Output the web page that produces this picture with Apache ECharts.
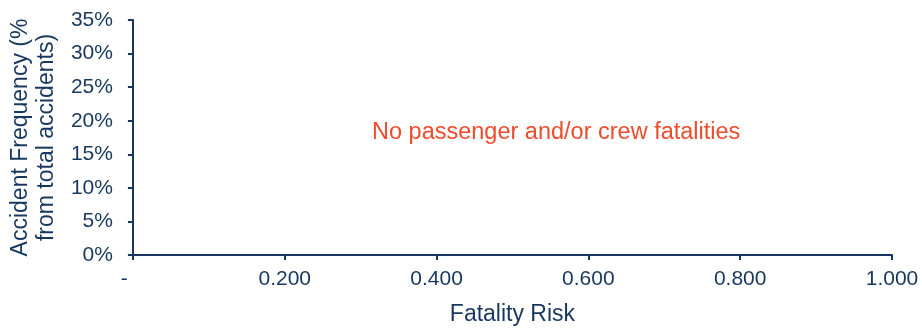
<!DOCTYPE html>
<html>
<head>
<meta charset="utf-8">
<script src="https://cdn.jsdelivr.net/npm/echarts@6/dist/echarts.min.js"></script>
<style>
html, body { margin: 0; padding: 0; background: #fff; }
#main { width: 922px; height: 331px; }
</style>
</head>
<body>
<div id="main"></div>
<script>
// no accidents with passenger/crew fatalities -> empty chart
var riskValues = [];
var freqValues = [];
var xMin = 0, xMax = 1, xStep = 0.2;
var yMin = 0, yMax = 0.35, yStep = 0.05;
var note = 'No passenger and/or crew fatalities';

var navy = '#17375E';
var font = '"Liberation Sans", Arial, sans-serif';

var points = [];
for (var i = 0; i < riskValues.length; i++) {
	points.push([riskValues[i], freqValues[i]]);
}

var myChart = echarts.init(document.getElementById('main'));
var option = {
	animation: false,
	grid: { left: 130, right: 30, top: 20, bottom: 75, containLabel: false },
	xAxis: {
		type: 'value',
		min: xMin, max: xMax, interval: xStep,
		name: 'Fatality Risk',
		nameLocation: 'middle',
		nameGap: 48,
		nameTextStyle: { color: navy, fontSize: 23, fontFamily: font },
		axisLine: { show: true, lineStyle: { color: navy, width: 2 } },
		axisTick: { show: true, length: 5, lineStyle: { color: navy, width: 2 } },
		splitLine: { show: false },
		axisLabel: {
			color: navy, fontSize: 21, fontFamily: font, margin: 14,
			// accounting style zero: dash with trailing spaces
			formatter: function (v) { return v === 0 ? '-   ' : v.toFixed(3); }
		}
	},
	yAxis: {
		type: 'value',
		min: yMin, max: yMax, interval: yStep,
		name: 'Accident Frequency (%\nfrom total accidents)',
		nameLocation: 'middle',
		nameGap: 71,
		nameTextStyle: { color: navy, fontSize: 23, fontFamily: font, lineHeight: 26 },
		axisLine: { show: true, lineStyle: { color: navy, width: 2 } },
		axisTick: { show: true, length: 5, lineStyle: { color: navy, width: 2 } },
		splitLine: { show: false },
		axisLabel: {
			color: navy, fontSize: 21, fontFamily: font, margin: 20,
			formatter: function (v) { return Math.round(v * 100) + '%'; }
		}
	},
	graphic: [{
		type: 'text',
		left: 372, top: 121,
		style: { text: note, fill: '#EE4B2B', fontSize: 23.5, fontFamily: font }
	}],
	series: [{
		type: 'scatter',
		data: points,
		itemStyle: { color: navy }
	}]
};
myChart.setOption(option);
window.onresize = myChart.resize;
</script>
</body>
</html>
